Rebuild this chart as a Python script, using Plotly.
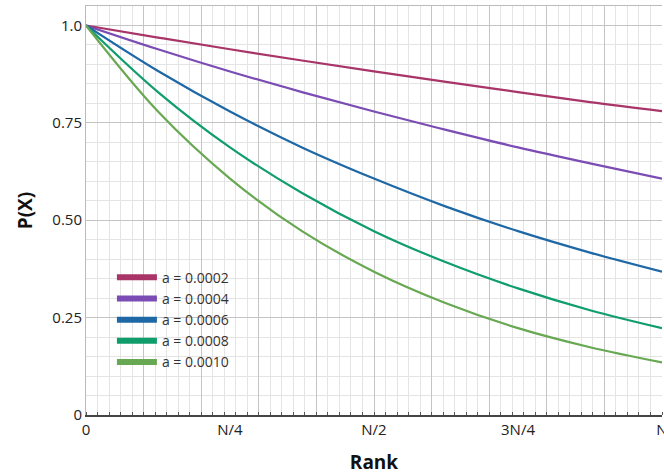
import plotly.graph_objects as go

# Rank as fraction of N
rank = [0, 0.125, 0.25, 0.375, 0.5, 0.625, 0.75, 0.875, 1.0]
labels = ["a = 0.0002", "a = 0.0004", "a = 0.0006", "a = 0.0008", "a = 0.0010"]
p_a0002 = [1.0, 0.969, 0.939, 0.910, 0.882, 0.855, 0.829, 0.803, 0.780]
p_a0004 = [1.0, 0.939, 0.882, 0.829, 0.779, 0.732, 0.687, 0.646, 0.607]
p_a0006 = [1.0, 0.883, 0.779, 0.687, 0.607, 0.535, 0.472, 0.417, 0.368]
p_a0008 = [1.0, 0.829, 0.687, 0.570, 0.472, 0.392, 0.325, 0.269, 0.223]
p_a0010 = [1.0, 0.779, 0.607, 0.472, 0.368, 0.287, 0.223, 0.174, 0.135]
series = [p_a0002, p_a0004, p_a0006, p_a0008, p_a0010]
colors = ["#a83468", "#7a4cb4", "#1f68a6", "#0f9d6c", "#68a852"]

x_tickvals = [0, 0.25, 0.5, 0.75, 1.0]
x_ticktext = ["0", "N/4", "N/2", "3N/4", "N"]
y_tickvals = [0, 0.25, 0.5, 0.75, 1.0]
y_ticktext = ["0", "0.25", "0.50", "0.75", "1.0"]

FONT = "Open Sans"
fig = go.Figure()

for name, ys, c in zip(labels, series, colors):
    fig.add_trace(go.Scatter(x=rank, y=ys, mode="lines", line=dict(color=c, width=2.2, shape="spline"),
                             name=name, showlegend=False, hoverinfo="skip"))
for name, c in zip(labels, colors):
    fig.add_trace(go.Scatter(x=[None], y=[None], mode="lines", line=dict(color=c, width=6),
                             name=name, showlegend=True))

# overlay axis for major x gridlines every N/10
fig.add_trace(go.Scatter(x=[0, 1], y=[None, None], xaxis="x2", showlegend=False, hoverinfo="skip"))

fig.update_layout(
    width=664, height=476,
    margin=dict(l=86, r=2, t=6, b=61),
    paper_bgcolor="white", plot_bgcolor="white",
    font=dict(family=FONT, size=15, color="#222"),
    xaxis=dict(range=[0, 1], tickvals=x_tickvals, ticktext=x_ticktext, showgrid=False,
               showline=True, linecolor="#444", linewidth=1.5, ticks="", zeroline=False,
               tickfont=dict(size=15, color="#222"), ticklabeloverflow="allow", automargin=False,
               minor=dict(dtick=0.02, showgrid=True, gridcolor="#e4e4e4", gridwidth=1,
                          ticks="inside", ticklen=3, tickcolor="#555"),
               title=dict(text="<b>Rank</b>", font=dict(size=19, color="#111"), standoff=18)),
    xaxis2=dict(range=[0, 1], overlaying="x", side="top", dtick=0.1, showticklabels=False,
                showgrid=True, gridcolor="#c4c4c4", gridwidth=1, showline=True, linecolor="#bbb",
                ticks="", zeroline=False, automargin=False),
    yaxis=dict(range=[0, 1.05], tickvals=y_tickvals, ticktext=y_ticktext, showgrid=True,
               gridcolor="#c4c4c4", gridwidth=1, showline=True, linecolor="#bbb", zeroline=False,
               ticks="", ticklen=0, tickfont=dict(size=15, color="#222"), automargin=False,
               minor=dict(dtick=0.05, showgrid=True, gridcolor="#e4e4e4", gridwidth=1),
               title=dict(text="<b>P(X)</b>", font=dict(size=19, color="#111"), standoff=14)),
    legend=dict(x=0.045, y=0.375, xanchor="left", yanchor="top", bgcolor="rgba(0,0,0,0)",
                font=dict(size=14, color="#333"), tracegroupgap=0, itemwidth=40),
)

fig.write_html("out.html")
